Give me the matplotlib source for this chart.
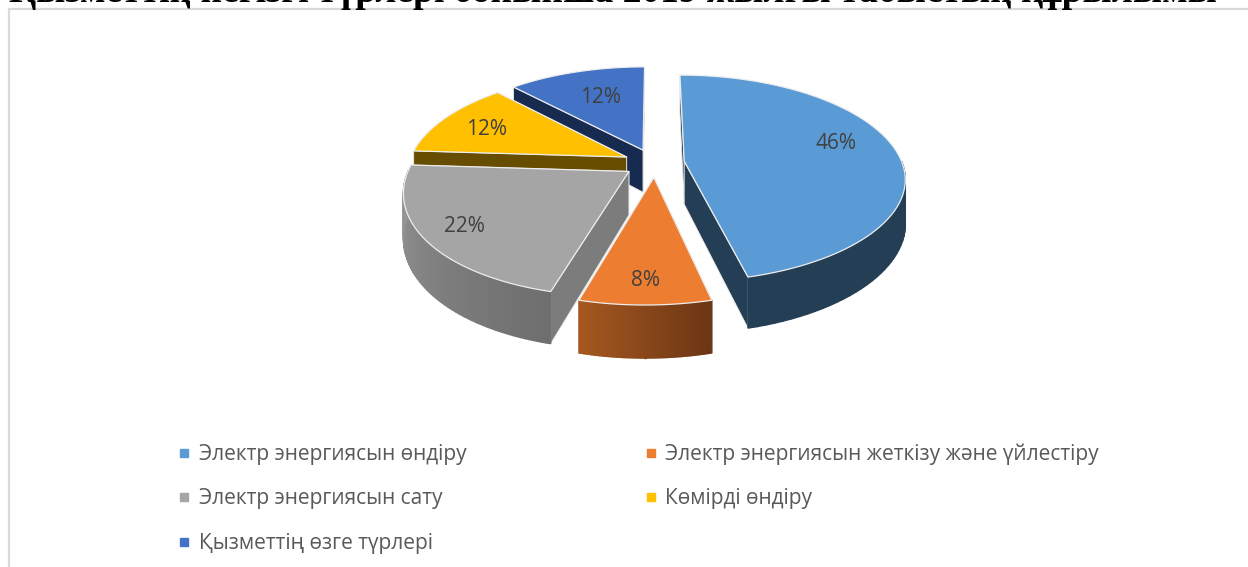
import numpy as np
import matplotlib
matplotlib.use('Agg')
import matplotlib.pyplot as plt
from matplotlib.lines import Line2D
from matplotlib.colors import to_rgb

title = 'Қызметтің негізгі түрлері бойынша 2019 жылғы табыстың құрылымы'
categories = ['Электр энергиясын өндіру', 'Электр энергиясын жеткізу және үйлестіру',
              'Электр энергиясын сату', 'Көмірді өндіру', 'Қызметтің өзге түрлері']
shares = [46, 8, 22, 12, 12]

top_colors = ['#5B9BD5', '#ED7D31', '#A5A5A5', '#FFC000', '#4472C4']
cut_colors = ['#243F55', '#6B3614', '#7C7C7C', '#664D00', '#172B50']
wall_start = ['#243F55', '#6B3614', '#6E6E6E', '#664D00', '#172B50']
wall_end = ['#243F55', '#A6581F', '#989898', '#664D00', '#172B50']
# label offset from the slice tip, in pixels (x right, y down)
label_offsets = [(152, -18), (-8, 103), (-164, 55), (-140, -28), (-42, -53)]

# pie geometry, in pixels of the figure
CX, CY = 654, 163
RX, RY = 218, 101
DEPTH = 43
PERSP = 0.166
EXPLODE = 0.14
FRONT_SHIFT = 7


def project(x, y, drop=0):
    w = 1 + PERSP * y
    return CX + RX * x / w - FRONT_SHIFT * min(y, 0) ** 2, CY - RY * y / w + drop / w


def shade(c1, c2, t):
    c1, c2 = np.array(to_rgb(c1)), np.array(to_rgb(c2))
    return tuple(c1 + (c2 - c1) * t)


fig = plt.figure(figsize=(12.48, 5.67), dpi=100)
ax = fig.add_axes([0, 0, 1, 1])
ax.set_xlim(0, 1248)
ax.set_ylim(567, 0)
ax.axis('off')

ax.plot([1248, 9, 9], [9, 9, 567], color='#D9D9D9', lw=1.6, zorder=1)
ax.text(9, 2, title, fontsize=27, fontweight='bold', color='black',
        family=['Liberation Serif', 'DejaVu Serif'], va='baseline', ha='left')

edges = np.cumsum([0] + shares) / sum(shares) * 2 * np.pi
# back slices first, the front ones paint over them
order = [4, 3, 2, 0, 1]
z = 2
for i in order:
    a0, a1 = edges[i], edges[i + 1]
    mid = (a0 + a1) / 2
    ox, oy = EXPLODE * np.sin(mid), EXPLODE * np.cos(mid)
    theta = np.linspace(a0, a1, 80)
    xs, ys = ox + np.sin(theta), oy + np.cos(theta)

    # radial cuts, the one further back goes first
    for a in sorted((a0, a1), key=lambda t: -np.cos(t)):
        ex, ey = ox + np.sin(a), oy + np.cos(a)
        p = [project(ox, oy), project(ex, ey), project(ex, ey, DEPTH), project(ox, oy, DEPTH)]
        ax.fill(*zip(*p), color=cut_colors[i], ec='#E8E8E8', lw=0.6, zorder=z)
        z += 1

    # outer wall, only the part that faces the viewer
    front = np.where(np.cos(theta) < 0.02)[0]
    for j in front[:-1]:
        p = [project(xs[j], ys[j]), project(xs[j + 1], ys[j + 1]),
             project(xs[j + 1], ys[j + 1], DEPTH), project(xs[j], ys[j], DEPTH)]
        col = shade(wall_start[i], wall_end[i], (theta[j] - a0) / (a1 - a0))
        ax.fill(*zip(*p), fc=col, ec=col, lw=1.0, zorder=z)
    z += 1

    top = [project(ox, oy)] + [project(x, y) for x, y in zip(xs, ys)]
    ax.fill(*zip(*top), fc=top_colors[i], ec='#EDEDED', lw=0.9, joinstyle='round', zorder=z)
    z += 1

    tip = project(ox, oy)
    dx, dy = label_offsets[i]
    ax.annotate(f'{shares[i]}%', xy=tip, xytext=(dx, -dy), textcoords='offset pixels',
                ha='center', va='center', fontsize=15, color='#404040',
                family=['Open Sans', 'DejaVu Sans'], zorder=50)

# legend rows fill column by column
leg_order = [0, 2, 4, 1, 3]
handles = [Line2D([], [], ls='', marker='s', ms=6, color=top_colors[i], label=categories[i])
           for i in leg_order]
ax.legend(handles=handles, ncol=2, loc='upper left', bbox_to_anchor=(161 / 1248, 1 - 433 / 567),
          frameon=False, labelcolor='#595959', handletextpad=0.1, columnspacing=8.25,
          labelspacing=1.13, borderpad=0, handlelength=1.2,
          prop={'family': ['Open Sans', 'DejaVu Sans'], 'size': 15})

fig.savefig('out.png', dpi=100)
